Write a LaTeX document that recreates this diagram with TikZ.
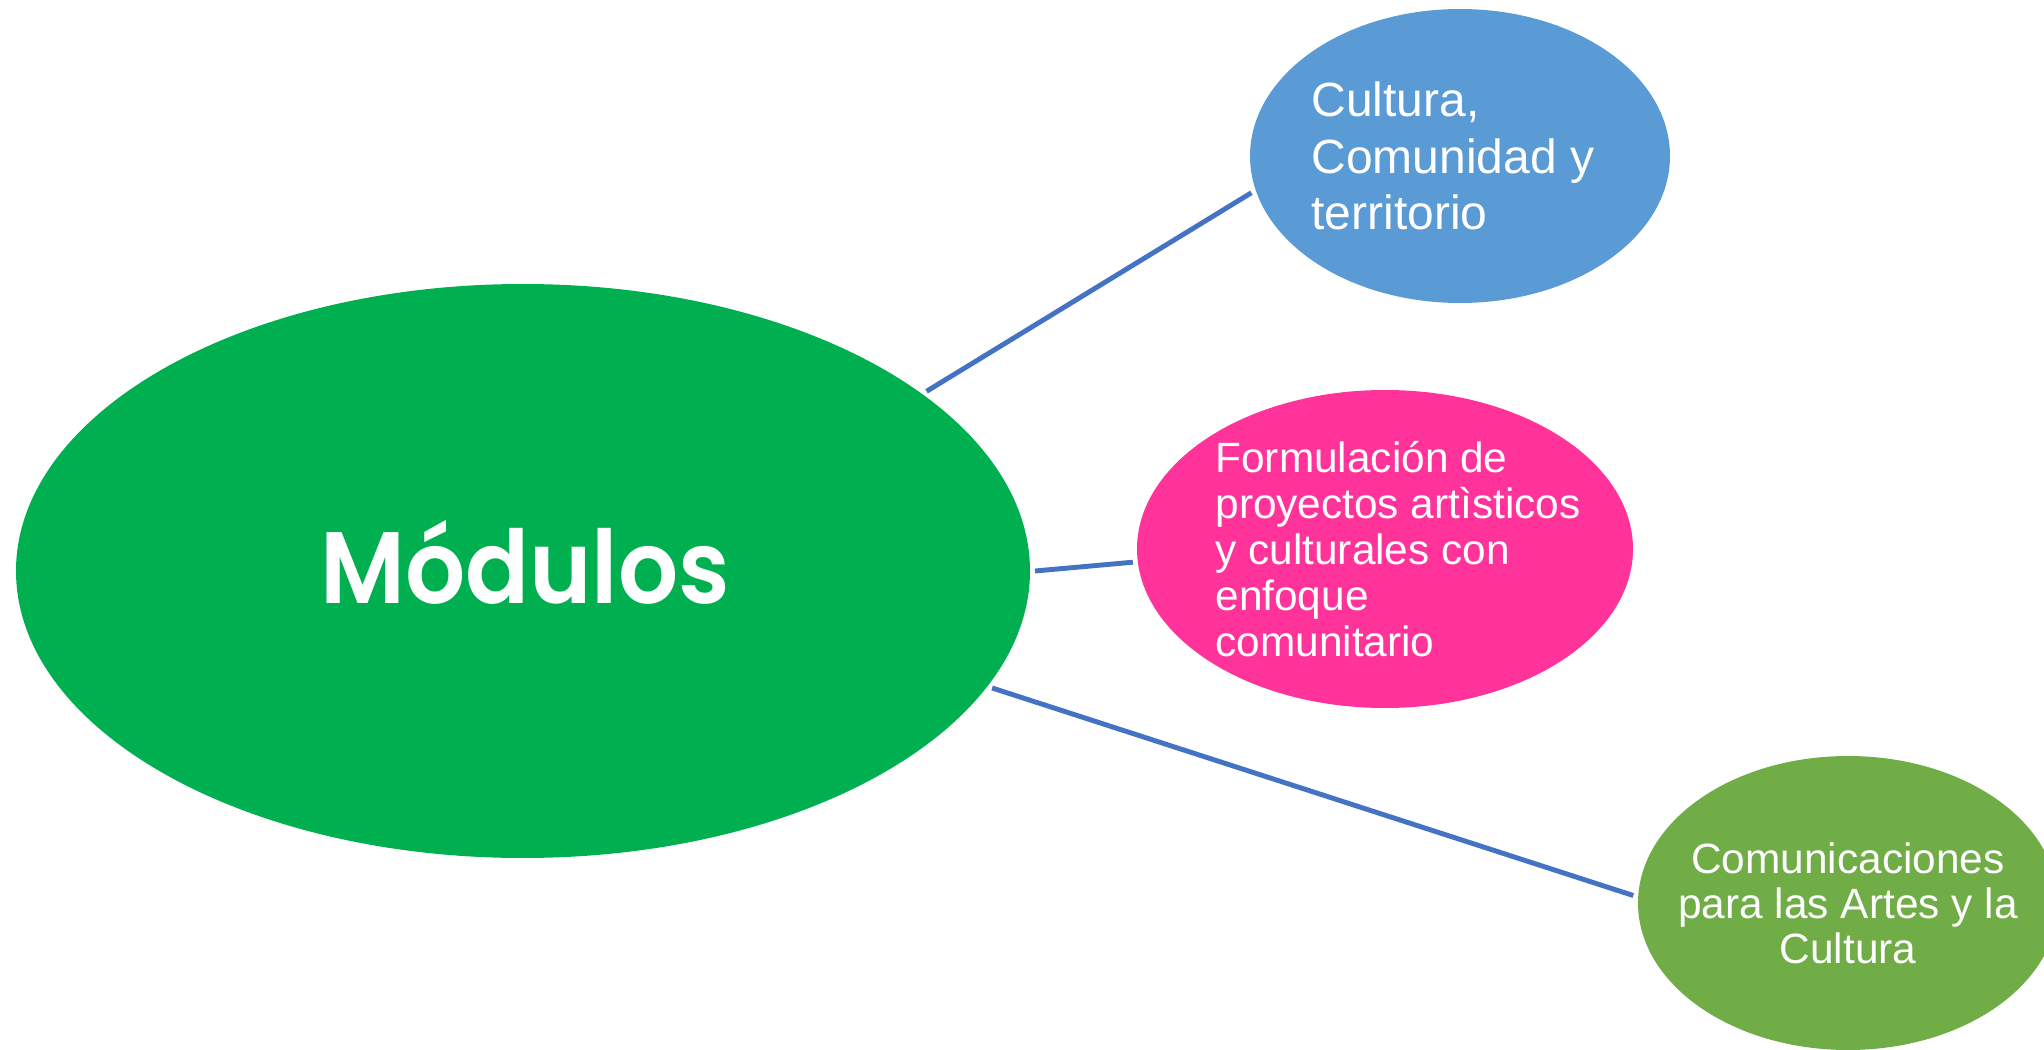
\documentclass[tikz,border=0pt]{standalone}
\usepackage{fontspec}
\setmainfont{Liberation Sans}
\newfontfamily\modfont{Poppins SemiBold}[FakeStretch=0.93]
\usetikzlibrary{shapes.geometric}
\definecolor{modgreen}{HTML}{00B050}
\definecolor{culblue}{HTML}{5B9BD5}
\definecolor{forpink}{HTML}{FF3399}
\definecolor{comgreen}{HTML}{70AD47}
\definecolor{linkblue}{HTML}{4472C4}
\tikzset{
    bubble/.style={ellipse, inner sep=0pt, outer sep=0.5mm},
    captxt/.style={text=white, inner sep=0pt},
    link/.style={draw=linkblue, line width=1.4pt},
}

\begin{document}
\begin{tikzpicture}[x=0.1mm, y=-0.1mm]
    \clip (0,0) rectangle (2044,1050);
    \node[bubble, fill=modgreen, minimum width=101.4mm, minimum height=57.4mm] (M) at (523,571) {};
    \node[bubble, fill=culblue, minimum width=42mm, minimum height=29.4mm] (C) at (1460,156) {};
    \node[bubble, fill=forpink, minimum width=49.6mm, minimum height=31.8mm] (F) at (1385,549) {};
    \node[bubble, fill=comgreen, minimum width=42mm, minimum height=29.4mm] (K) at (1848,903) {};
    \node[captxt, anchor=base, font=\modfont\fontsize{28.9}{32}\selectfont] (Mt) at (525,603) {Módulos};
    \node[captxt, align=left, font=\fontsize{13.66}{16.13}\selectfont] (Ct) at ([xshift=-0.7mm]C) {Cultura,\\Comunidad y\\territorio};
    \node[captxt, align=left, font=\fontsize{12.06}{13.09}\selectfont] (Ft) at ([xshift=1.3mm]F) {Formulación de\\proyectos artìsticos\\y culturales con\\enfoque\\comunitario};
    \node[captxt, align=center, font=\fontsize{12.06}{12.8}\selectfont] (Kt) at (K) {Comunicaciones\\para las Artes y la\\Cultura};
    \draw[link] (M.24.6) -- (C.190.8);
    \draw[link] (M.0.6) -- (F.183.2);
    \draw[link] (M.-14) -- (K.178.9);
\end{tikzpicture}
\end{document}
